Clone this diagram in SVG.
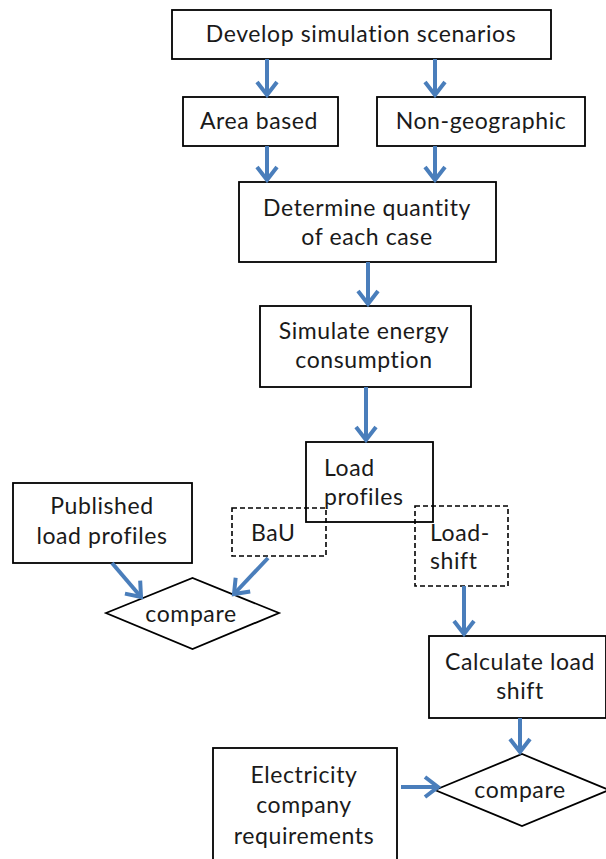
<svg xmlns="http://www.w3.org/2000/svg" width="606" height="859" viewBox="0 0 606 859">
  <style>
    .box { fill: #ffffff; stroke: #000000; stroke-width: 1.8; }
    .open { fill: none; stroke: #000000; stroke-width: 1.8; }
    .dash { fill: none; stroke: #000000; stroke-width: 1.6; stroke-dasharray: 5 3; }
    .lbl { font-family: Lato, "Liberation Sans", sans-serif; font-size: 23px; letter-spacing: 0.6px; fill: #1a1a1a; }
    .c { text-anchor: middle; }
    .flow { fill: none; stroke: #4A7EBB; stroke-width: 4; marker-end: url(#chev); }
  </style>
  <defs>
    <marker id="chev" markerUnits="userSpaceOnUse" viewBox="-20 -15 30 30" markerWidth="30" markerHeight="30" refX="0" refY="0" orient="auto" overflow="visible">
      <path d="M -13,-10 L 0,0 L -13,10" fill="none" stroke="#4A7EBB" stroke-width="4" stroke-linejoin="miter"/>
    </marker>
  </defs>

  <rect width="606" height="859" fill="#ffffff"/>

  <g id="develop">
    <rect class="box" x="172" y="10" width="379" height="49"/>
    <text class="lbl c" x="361" y="42">Develop simulation scenarios</text>
  </g>
  <g id="area-based">
    <rect class="box" x="183" y="97" width="155" height="49"/>
    <text class="lbl c" x="259" y="129">Area based</text>
  </g>
  <g id="non-geographic">
    <rect class="box" x="377" y="97" width="208" height="49"/>
    <text class="lbl c" x="481" y="129">Non-geographic</text>
  </g>
  <g id="determine">
    <rect class="box" x="239" y="182" width="257" height="80"/>
    <text class="lbl c" x="367" y="216">Determine quantity</text>
    <text class="lbl c" x="367" y="245">of each case</text>
  </g>
  <g id="simulate">
    <rect class="box" x="260" y="306" width="211" height="81"/>
    <text class="lbl c" x="364" y="339">Simulate energy</text>
    <text class="lbl c" x="364" y="368">consumption</text>
  </g>
  <g id="published">
    <rect class="box" x="13" y="483" width="179" height="80"/>
    <text class="lbl c" x="102" y="514">Published</text>
    <text class="lbl c" x="102" y="544">load profiles</text>
  </g>
  <g id="load-profiles">
    <rect class="open" x="306" y="442" width="127" height="80"/>
    <text class="lbl" x="324" y="476">Load</text>
    <text class="lbl" x="324" y="505">profiles</text>
  </g>
  <g id="bau">
    <rect class="dash" x="232" y="508" width="94" height="48"/>
    <text class="lbl" x="251" y="541">BaU</text>
  </g>
  <g id="load-shift">
    <rect class="dash" x="415" y="506" width="93" height="80"/>
    <text class="lbl" x="430" y="541">Load-</text>
    <text class="lbl" x="430" y="569">shift</text>
  </g>
  <g id="compare-1">
    <polygon class="box" points="106,613 192.5,578 279,613 192.5,649"/>
    <text class="lbl c" x="191" y="622">compare</text>
  </g>
  <g id="calculate">
    <rect class="box" x="429" y="636" width="177" height="82"/>
    <text class="lbl c" x="520" y="670">Calculate load</text>
    <text class="lbl c" x="520" y="699">shift</text>
  </g>
  <g id="electricity">
    <rect class="box" x="213" y="748" width="184" height="115"/>
    <text class="lbl c" x="304" y="783">Electricity</text>
    <text class="lbl c" x="304" y="813">company</text>
    <text class="lbl c" x="304" y="844">requirements</text>
  </g>
  <g id="compare-2">
    <polygon class="box" points="435,790 522,754 609,790 522,826"/>
    <text class="lbl c" x="520" y="798">compare</text>
  </g>

  <g id="connectors">
    <line class="flow" x1="267" y1="59" x2="267" y2="95"/>
    <line class="flow" x1="435" y1="59" x2="435" y2="95"/>
    <line class="flow" x1="267" y1="146" x2="267" y2="180"/>
    <line class="flow" x1="435" y1="146" x2="435" y2="180"/>
    <line class="flow" x1="368" y1="262" x2="368" y2="304"/>
    <line class="flow" x1="366" y1="387" x2="366" y2="440"/>
    <line class="flow" x1="112" y1="563" x2="141" y2="597"/>
    <line class="flow" x1="268" y1="558" x2="234" y2="594"/>
    <line class="flow" x1="464" y1="586" x2="464" y2="634"/>
    <line class="flow" x1="520" y1="718" x2="520" y2="752"/>
    <line class="flow" x1="401" y1="787" x2="438" y2="787"/>
  </g>
</svg>
